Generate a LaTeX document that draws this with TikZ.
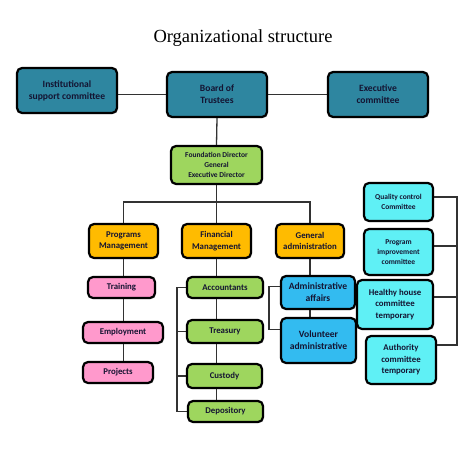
\documentclass[tikz,border=0pt]{standalone}
\usepackage{fontspec}
\setmainfont{Carlito}
\newfontfamily\titlefont{Liberation Serif}
\usetikzlibrary{positioning,backgrounds,shadows}
\definecolor{teal}{RGB}{46,134,160}
\definecolor{leaf}{RGB}{158,214,94}
\definecolor{amber}{RGB}{255,187,0}
\definecolor{rose}{RGB}{255,153,204}
\definecolor{sky}{RGB}{51,187,240}
\definecolor{aqua}{RGB}{95,240,245}
\definecolor{inkcol}{RGB}{20,20,50}
\definecolor{wirecol}{RGB}{50,50,50}

\begin{document}
\begin{tikzpicture}[x=1pt,y=-1pt,
  box/.style={draw=black,line width=2.2pt,rounded corners=5pt,align=center,
    inner sep=1pt,text=inkcol,font=\bfseries,
    drop shadow={opacity=0.25,shadow xshift=1.2pt,shadow yshift=-1.2pt}},
  wire/.style={wirecol,line width=1.3pt},
  fbig/.style={font=\bfseries\fontsize{9.6}{12}\selectfont},
  fmid/.style={font=\bfseries\fontsize{8.8}{11.5}\selectfont},
  fsml/.style={font=\bfseries\fontsize{7.5}{9.8}\selectfont}]
  \useasboundingbox (0,0) rectangle (474,455);
  \node[font=\titlefont\fontsize{18.5}{22}\selectfont] (title) at (243,38) {Organizational structure};
  % top row
  \node[box,fbig,fill=teal,minimum width=100pt,minimum height=45pt] (inst) at (67,90.5) {Institutional\\support committee};
  \node[box,fbig,fill=teal,minimum width=100pt,minimum height=45pt] (board) at (217,94.5) {Board of\\Trustees};
  \node[box,fbig,fill=teal,minimum width=100pt,minimum height=45pt] (exec) at (378,94.5) {Executive\\committee};
  \node[box,fsml,fill=leaf,minimum width=91pt,minimum height=38pt] (fdir) at (216.5,165) {Foundation Director\\General\\Executive Director};
  % departments
  \node[box,fmid,fill=amber,minimum width=69pt,minimum height=34pt] (prog) at (123.5,241) {Programs\\Management};
  \node[box,fmid,fill=amber,minimum width=69pt,minimum height=34pt] (fin) at (216.5,241) {Financial\\Management};
  \node[box,fmid,fill=amber,minimum width=68pt,minimum height=34pt] (gen) at (310,241) {General\\administration};
  % programs
  \node[box,fmid,fill=rose,minimum width=67pt,minimum height=21pt] (train) at (121.5,287.5) {Training};
  \node[box,fmid,fill=rose,minimum width=80pt,minimum height=21pt] (employ) at (123,332.5) {Employment};
  \node[box,fmid,fill=rose,minimum width=70pt,minimum height=21pt] (proj) at (118,372.5) {Projects};
  % finance
  \node[box,fmid,fill=leaf,minimum width=76pt,minimum height=21pt] (acct) at (225,287.5) {Accountants};
  \node[box,fmid,fill=leaf,minimum width=76pt,minimum height=23pt] (treas) at (225,331.5) {Treasury};
  \node[box,fmid,fill=leaf,minimum width=75pt,minimum height=24pt] (cust) at (224.5,376) {Custody};
  \node[box,fmid,fill=leaf,minimum width=75pt,minimum height=21pt] (depo) at (225.5,411.5) {Depository};
  % administration
  \node[box,fbig,fill=sky,minimum width=74pt,minimum height=33pt] (admaff) at (318,292.5) {Administrative\\affairs};
  \node[box,fbig,fill=sky,minimum width=75pt,minimum height=45pt] (volun) at (318.5,340.5) {Volunteer\\administrative};
  % committees
  \node[box,fsml,fill=aqua,minimum width=69pt,minimum height=38pt] (qual) at (398.5,202) {Quality control\\Committee};
  \node[box,fsml,fill=aqua,minimum width=69pt,minimum height=46pt] (pimpr) at (398.5,252) {Program\\improvement\\committee};
  \node[box,fmid,fill=aqua,minimum width=76pt,minimum height=49pt] (health) at (395,304.5) {Healthy house\\committee\\temporary};
  \node[box,fmid,fill=aqua,minimum width=70pt,minimum height=48pt] (auth) at (401,360) {Authority\\committee\\temporary};
  \coordinate (split) at (216.5,202);
  \coordinate (rbus) at (457,0);
  \begin{scope}[on background layer]
    \draw[wire] (board.west) -- (board.west -| inst.east);
    \draw[wire] (board.east) -- (exec.west);
    \draw[wire] (board.south) -- (fdir.north);
    \draw[wire] (fdir.south) -- (fin.north);
    \draw[wire] (prog.north) |- (split) -| (gen.north);
    \draw[wire] (prog.south) -- (prog.south |- proj.north);
    \draw[wire] (fin.south) -- (fin.south |- depo.north);
    \draw[wire] (acct.west) -- ++(-9,0) |- (depo.west);
    \draw[wire] (treas.west) -- ++(-9,0);
    \draw[wire] (cust.west) -- ++(-9,0);
    \draw[wire] (gen.south) -- (gen.south |- volun.north);
    \draw[wire] ([yshift=6pt]admaff.west) -- ++(-11,0) |- ([yshift=11pt]volun.west);
    \draw[wire] ([yshift=5pt]qual.east) -| ([yshift=15pt]auth.east -| rbus) -- ([yshift=15pt]auth.east);
    \draw[wire] ([yshift=6pt]pimpr.east) -- ([yshift=6pt]pimpr.east -| rbus);
    \draw[wire] ([yshift=7.5pt]health.east) -- ([yshift=7.5pt]health.east -| rbus);
  \end{scope}
\end{tikzpicture}
\end{document}
